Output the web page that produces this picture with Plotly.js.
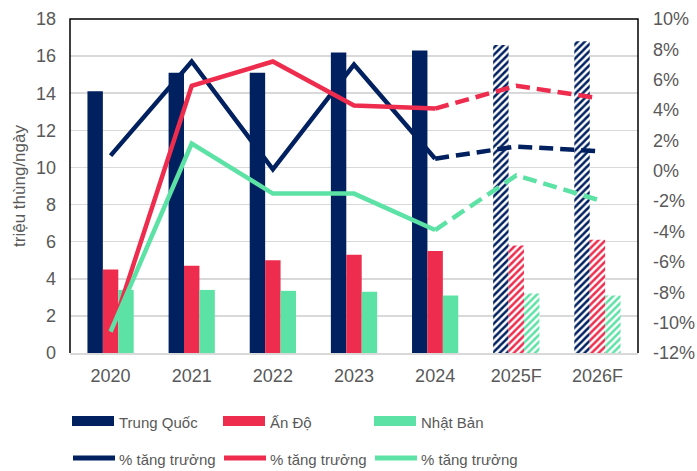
<!DOCTYPE html>
<html>
<head>
<meta charset="utf-8">
<script src="https://cdn.plot.ly/plotly-3.0.1.min.js"></script>
<style>
html,body{margin:0;padding:0;background:#fff;}
#chart{width:697px;height:471px;}
</style>
</head>
<body>
<div id="chart"></div>
<script>
// ---- data ----
var categories = ['2020', '2021', '2022', '2023', '2024', '2025F', '2026F'];
var chinaDemand = [14.1, 15.1, 15.1, 16.2, 16.3, 16.6, 16.8];
var indiaDemand = [4.5, 4.7, 5.0, 5.3, 5.5, 5.8, 6.1];
var japanDemand = [3.4, 3.4, 3.35, 3.3, 3.1, 3.2, 3.1];
var chinaGrowth = [1.0, 7.2, 0.1, 7.0, 0.8, 1.6, 1.3];
var indiaGrowth = [-10.8, 5.6, 7.2, 4.3, 4.1, 5.6, 4.8];
var japanGrowth = [-10.6, 1.8, -1.5, -1.5, -3.9, -0.3, -1.9];
var forecastFlags = [false, false, false, false, false, true, true];
var leftTickVals = [0, 2, 4, 6, 8, 10, 12, 14, 16, 18];
var rightTickVals = [-12, -10, -8, -6, -4, -2, 0, 2, 4, 6, 8, 10];
var rightTickText = ['-12%', '-10%', '-8%', '-6%', '-4%', '-2%', '0%', '2%', '4%', '6%', '8%', '10%'];
var barNames = ['Trung Quốc', 'Ấn Độ', 'Nhật Bản'];
var lineName = '% tăng trưởng';
var yTitle = 'triệu thùng/ngày';

// ---- styles ----
var NAVY = '#002060', RED = '#EE2C4D', GREEN = '#5DE2A5';
var TXT = '#595959';
var FONT = 'Liberation Sans, Arial, sans-serif';
var lastActual = 4; // index of last actual year (2024)

function barTrace(name, vals, color) {
  return {
    type: 'bar', name: name, x: categories, y: vals, yaxis: 'y',
    marker: {
      color: color, line: {width: 0},
      pattern: {
        shape: forecastFlags.map(function (f) { return f ? '/' : ''; }),
        fgcolor: color, bgcolor: '#ffffff', size: 5, solidity: 0.5, fillmode: 'replace'
      }
    },
    showlegend: false, hoverinfo: 'x+y'
  };
}
function lineTraces(vals, color) {
  return [
    {type: 'scatter', mode: 'lines', x: categories.slice(0, lastActual + 1), y: vals.slice(0, lastActual + 1),
     yaxis: 'y2', line: {color: color, width: 4.5}, showlegend: false, name: lineName},
    {type: 'scatter', mode: 'lines', x: categories.slice(lastActual), y: vals.slice(lastActual),
     yaxis: 'y2', line: {color: color, width: 4.5, dash: '14px,7px'}, showlegend: false, name: lineName}
  ];
}

var data = [
  barTrace(barNames[0], chinaDemand, NAVY),
  barTrace(barNames[1], indiaDemand, RED),
  barTrace(barNames[2], japanDemand, GREEN)
].concat(lineTraces(chinaGrowth, NAVY), lineTraces(indiaGrowth, RED), lineTraces(japanGrowth, GREEN));

// plot-area geometry (pixels) for the hand-built legend
var L = 70, R = 59, T = 19, B = 118, W = 697, H = 471;
var pw = W - L - R, ph = H - T - B;
function px(x) { return (x - L) / pw; }
function py(y) { return (H - B - y) / ph; }

var shapes = [
  // frame: left, top, right in black
  {type: 'path', xref: 'paper', yref: 'paper', path: 'M0,0 L0,1 L1,1 L1,0', line: {color: '#000000', width: 1.5}, layer: 'above'}
];
var annotations = [];
var colors = [NAVY, RED, GREEN];
var colX = [72, 223, 374];
for (var i = 0; i < 3; i++) {
  shapes.push({type: 'rect', xref: 'paper', yref: 'paper', x0: px(colX[i]), x1: px(colX[i] + 42),
    y0: py(426), y1: py(416), fillcolor: colors[i], line: {width: 0}});
  annotations.push({xref: 'paper', yref: 'paper', x: px(colX[i] + 45), y: py(422), xanchor: 'left', yanchor: 'middle',
    text: barNames[i], showarrow: false, font: {family: FONT, size: 15, color: TXT}});
  shapes.push({type: 'line', xref: 'paper', yref: 'paper', x0: px(colX[i] + 1), x1: px(colX[i] + 43),
    y0: py(458), y1: py(458), line: {color: colors[i], width: 5}});
  annotations.push({xref: 'paper', yref: 'paper', x: px(colX[i] + 45), y: py(459), xanchor: 'left', yanchor: 'middle',
    text: lineName, showarrow: false, font: {family: FONT, size: 15, color: TXT}});
}

var layout = {
  width: W, height: H,
  margin: {l: L, r: R, t: T, b: B, pad: 0},
  paper_bgcolor: '#ffffff', plot_bgcolor: '#ffffff',
  font: {family: FONT, color: TXT, size: 18},
  barmode: 'group', bargap: 0.43, bargroupgap: 0,
  showlegend: false,
  xaxis: {
    type: 'category', categoryorder: 'array', categoryarray: categories,
    showline: true, linecolor: '#D9D9D9', linewidth: 1.5, ticks: '', showgrid: false,
    tickfont: {family: FONT, size: 18, color: TXT}, ticklabelstandoff: 6, fixedrange: true
  },
  yaxis: {
    range: [0, 18], tickvals: leftTickVals, showgrid: true, gridcolor: '#D9D9D9', gridwidth: 1.5,
    zeroline: false, showline: false, ticks: '', ticklabelstandoff: 13,
    tickfont: {family: FONT, size: 18, color: TXT},
    title: {text: yTitle, font: {family: FONT, size: 17, color: TXT}, standoff: 6}
  },
  yaxis2: {
    overlaying: 'y', side: 'right', range: [-12, 10], tickvals: rightTickVals, ticktext: rightTickText,
    showgrid: false, zeroline: false, showline: false, ticks: '', ticklabelstandoff: 14,
    tickfont: {family: FONT, size: 18, color: TXT}
  },
  shapes: shapes,
  annotations: annotations
};

Plotly.newPlot('chart', data, layout, {displayModeBar: false, staticPlot: true});
</script>
</body>
</html>
